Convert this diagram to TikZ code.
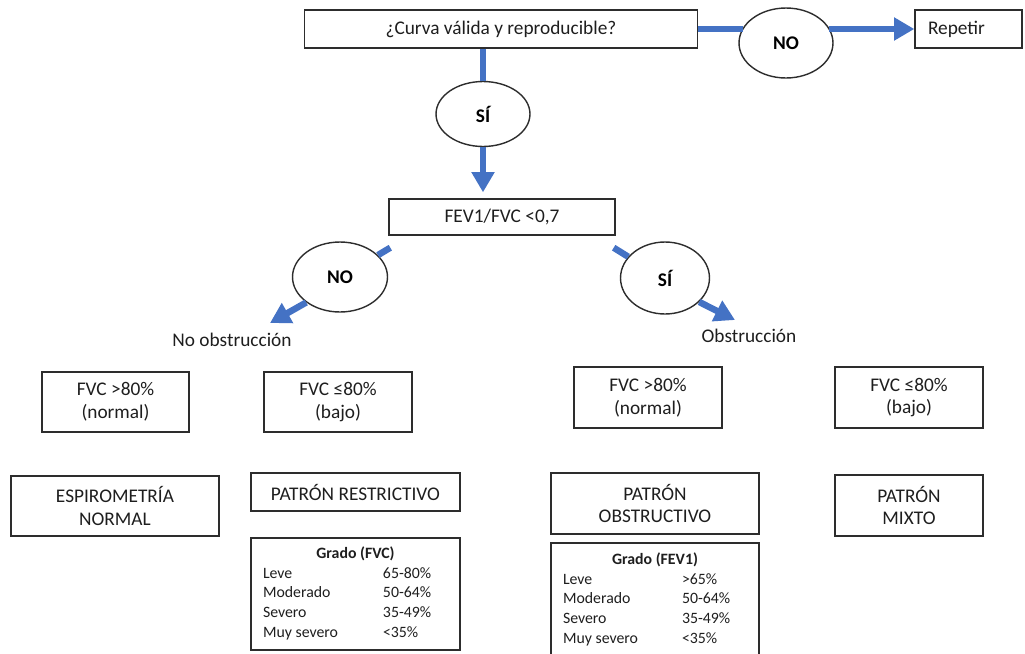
\documentclass[tikz,border=0pt]{standalone}
\usepackage{fontspec}
\setmainfont{Carlito}
\usetikzlibrary{shapes.geometric,arrows.meta}
\definecolor{flowblue}{RGB}{68,114,196}
\definecolor{boxline}{RGB}{45,45,45}
\definecolor{textgray}{RGB}{30,30,30}

\begin{document}
\begin{tikzpicture}[x=0.02cm, y=-0.02cm,
    box/.style={draw=boxline, line width=0.8pt, inner sep=0pt, align=center, text=textgray,
      font=\fontsize{11}{13}\selectfont},
    choice/.style={draw=boxline, line width=0.8pt, ellipse, inner sep=0pt, text=black,
      font=\fontsize{11}{13}\selectfont\bfseries},
    grade/.style={box, font=\fontsize{9}{11.3}\selectfont},
    outcome/.style={text=textgray, font=\fontsize{11}{13}\selectfont},
    link/.style={flowblue, line width=3.7pt},
    arrowlink/.style={link, -{Triangle[width=12.5pt, length=11.5pt]}}]
    \useasboundingbox (0, 0) rectangle (1025, 653);

    % Validity check
    \node[box, minimum width=7.86cm, minimum height=0.76cm] (q1) at (501, 29) {¿Curva válida y reproducible?};
    \node[choice, minimum width=1.88cm, minimum height=1.40cm] (no1) at (786, 43) {NO};
    \node[box, minimum width=2.14cm, minimum height=0.76cm, text width=1.62cm, align=left] (rep) at (968.5, 29) {Repetir};
    \node[choice, minimum width=1.88cm, minimum height=1.30cm] (si1) at (483, 114) {SÍ};

    \draw[link] (q1.east) -- (q1.east -| no1.160);
    \draw[arrowlink] (no1.20 |- rep.west) -- (rep.west);
    \draw[link] (si1.north |- q1.south) -- (si1.north);

    % Ratio check
    \node[box, minimum width=4.52cm, minimum height=0.72cm] (q2) at (502, 217) {FEV1/FVC <0,7};
    \node[choice, minimum width=1.90cm, minimum height=1.40cm] (no2) at (340, 277) {NO};
    \node[choice, minimum width=1.78cm, minimum height=1.44cm] (si2) at (665, 278) {SÍ};
    \node[outcome] (noobs) at (232, 340) {No obstrucción};
    \node[outcome] (obs) at (749, 336) {Obstrucción};
    \coordinate (tipno) at (270, 323);
    \coordinate (tipsi) at (735, 320);

    \draw[arrowlink, shorten >=3.4pt] (si1.south) -- (si1.south |- q2.north);
    \draw[link] ([shift={(2, 12)}]q2.south west) -- (no2.30);
    \draw[link] ([shift={(-2, 12)}]q2.south east) -- (si2.150);
    \draw[arrowlink] (no2.217) -- (tipno);
    \draw[arrowlink] (si2.325) -- (tipsi);

    % FVC boxes
    \node[box, minimum width=2.94cm, minimum height=1.20cm] (fvcA) at (115.5, 402) {FVC >80\%\\(normal)};
    \node[box, minimum width=2.96cm, minimum height=1.20cm] (fvcB) at (338, 402) {FVC ≤80\%\\(bajo)};
    \node[box, minimum width=2.96cm, minimum height=1.22cm] (fvcC) at (648, 397.5) {FVC >80\%\\(normal)};
    \node[box, minimum width=2.96cm, minimum height=1.22cm] (fvcD) at (909, 397.5) {FVC ≤80\%\\(bajo)};

    % Patterns
    \node[box, minimum width=4.16cm, minimum height=1.20cm] (normal) at (115, 506) {ESPIROMETRÍA\\NORMAL};
    \node[box, minimum width=4.18cm, minimum height=0.76cm] (restr) at (355.5, 492) {PATRÓN RESTRICTIVO};
    \node[box, minimum width=4.16cm, minimum height=1.22cm] (obstr) at (655, 503.5) {PATRÓN\\OBSTRUCTIVO};
    \node[box, minimum width=2.96cm, minimum height=1.22cm] (mixto) at (909, 505.5) {PATRÓN\\MIXTO};

    % Severity tables
    \node[grade, minimum width=4.18cm, minimum height=2.24cm] (gradeR) at (355.5, 594) {%
      \begin{tabular}{@{}p{2.4cm}@{}p{1.3cm}@{}}
        \multicolumn{2}{@{}c@{}}{\bfseries Grado (FVC)}\\
        Leve & 65-80\%\\
        Moderado & 50-64\%\\
        Severo & 35-49\%\\
        Muy severo & <35\%
      \end{tabular}};
    \node[grade, minimum width=4.16cm, minimum height=2.28cm] (gradeO) at (655, 600) {%
      \begin{tabular}{@{}p{2.38cm}@{}p{1.3cm}@{}}
        \multicolumn{2}{@{}c@{}}{\bfseries Grado (FEV1)}\\
        Leve & >65\%\\
        Moderado & 50-64\%\\
        Severo & 35-49\%\\
        Muy severo & <35\%
      \end{tabular}};
\end{tikzpicture}
\end{document}
